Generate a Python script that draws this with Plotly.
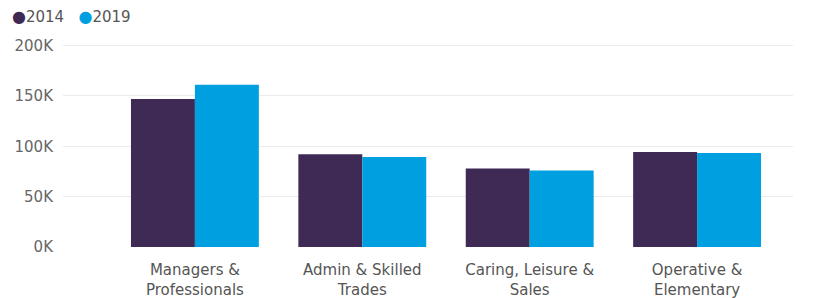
import plotly.graph_objects as go

categories = ["Managers &<br>Professionals", "Admin & Skilled<br>Trades", "Caring, Leisure &<br>Sales", "Operative &<br>Elementary"]
series_names = ["2014", "2019"]
values_2014 = [147000, 92000, 78000, 94300]
values_2019 = [161000, 89300, 76000, 93300]
colors = ["#3F2A56", "#00A0E0"]
y_tickvals = [0, 50000, 100000, 150000, 200000]
y_ticktext = ["0K", "50K", "100K", "150K", "200K"]

FONT = "DejaVu Sans"

fig = go.Figure()
for name, vals, col in zip(series_names, [values_2014, values_2019], colors):
    fig.add_trace(go.Bar(x=list(range(len(categories))), y=vals, name=name,
                         marker=dict(color=col, line=dict(width=0)), showlegend=False))

legend_text = "&nbsp;&nbsp;&nbsp;".join(
    f"<span style='color:{c};font-size:16px'>●</span>{n}" for n, c in zip(series_names, colors))
fig.add_annotation(text=legend_text, xref="paper", yref="paper", x=0, y=1,
                   xanchor="left", yanchor="middle", showarrow=False,
                   font=dict(family=FONT, size=15, color="#555555"),
                   xshift=-53, yshift=28)

fig.update_layout(
    width=821, height=298,
    margin=dict(l=63, r=28, t=44, b=51, autoexpand=False),
    paper_bgcolor="white", plot_bgcolor="white",
    barmode="group", bargap=0.236, bargroupgap=0,
    font=dict(family=FONT, size=15, color="#666666"),
    xaxis=dict(tickmode="array", tickvals=list(range(len(categories))), ticktext=categories,
               range=[-0.788, 3.573], showgrid=False, zeroline=False, showline=False,
               ticks="outside", ticklen=9, tickcolor="rgba(0,0,0,0)", automargin=False,
               tickfont=dict(family=FONT, size=15, color="#555555")),
    yaxis=dict(range=[0, 201500], tickvals=y_tickvals, ticktext=y_ticktext,
               showgrid=True, gridcolor="#EBEBEB", gridwidth=1, zeroline=False,
               ticks="outside", ticklen=6, tickcolor="rgba(0,0,0,0)", automargin=False,
               tickfont=dict(family=FONT, size=15, color="#666666")),
)

fig.write_html("out.html", post_script="document.body.style.margin='0';",
               config={"displayModeBar": False})
